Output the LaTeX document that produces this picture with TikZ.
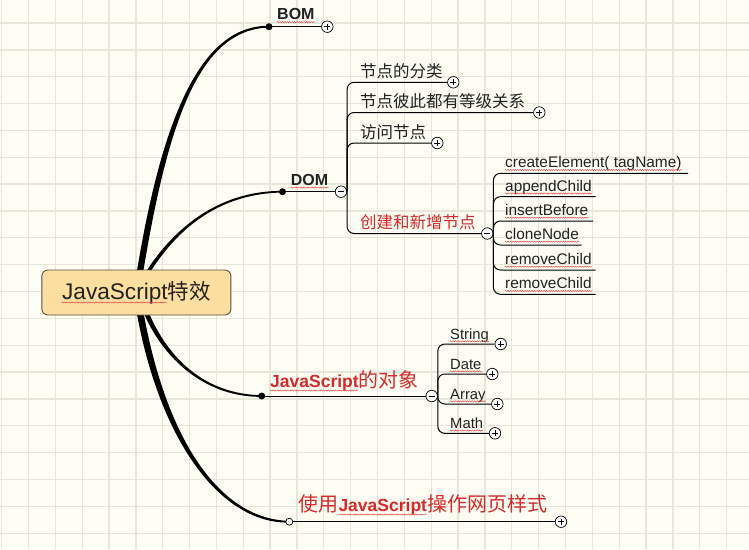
\documentclass[tikz,border=0pt]{standalone}
\usepackage{fontspec}
\setmainfont{Liberation Sans}
\newfontfamily\cjk{Noto Sans CJK SC}
\usetikzlibrary{decorations.pathmorphing}
\definecolor{bgc}{HTML}{FDFDF3}
\definecolor{gridc}{HTML}{E6E6DA}
\definecolor{rootfill}{HTML}{FCDFA0}
\definecolor{rootdraw}{HTML}{5A4E3A}
\definecolor{ink}{HTML}{222222}
\definecolor{redt}{HTML}{D42A2A}
\definecolor{wavec}{HTML}{D84848}
\newcommand\fs[1]{\fontsize{#1}{#1}\selectfont}
\newcommand\branchup[7]{\fill ([xshift=-#5]#1) .. controls ([xshift=-#5]#2) and ([yshift=#6]#3) .. ([yshift=#7]#4) -- ([yshift=-#7]#4) .. controls ([yshift=-#6]#3) and ([xshift=#5]#2) .. ([xshift=#5]#1) -- cycle;}
\newcommand\branchdown[7]{\fill ([xshift=-#5]#1) .. controls ([xshift=-#5]#2) and ([yshift=-#6]#3) .. ([yshift=-#7]#4) -- ([yshift=#7]#4) .. controls ([yshift=#6]#3) and ([xshift=#5]#2) .. ([xshift=#5]#1) -- cycle;}
\pgfdeclarelayer{back}
\pgfdeclarelayer{mid}
\pgfsetlayers{back,mid,main}
\tikzset{
  txt/.style={inner sep=0pt, text=ink, anchor=base west},
  tog/.style={circle, draw=black, fill=white, line width=0.7pt, minimum size=11.5pt, inner sep=0pt},
  plus/.style={tog, path picture={\draw[line width=0.7pt] ([xshift=-3pt]path picture bounding box.center) -- ([xshift=3pt]path picture bounding box.center) ([yshift=-3pt]path picture bounding box.center) -- ([yshift=3pt]path picture bounding box.center);}},
  minus/.style={tog, path picture={\draw[line width=0.7pt] ([xshift=-3pt]path picture bounding box.center) -- ([xshift=3pt]path picture bounding box.center);}},
  dot/.style={circle, fill=black, minimum size=7pt, inner sep=0pt},
  hdot/.style={circle, draw=black, fill=white, line width=0.7pt, minimum size=7pt, inner sep=0pt},
  conn/.style={line width=1pt, black, rounded corners=7pt},
  wavy/.style={draw=wavec, line width=0.45pt, decorate, decoration={snake, amplitude=0.6pt, segment length=2.4pt}}
}
\begin{document}
\begin{tikzpicture}[x=1pt,y=-1pt]
\useasboundingbox (0,0) rectangle (749,549);
\begin{pgfonlayer}{back}
\fill[bgc] (0,0) rectangle (749,549);
\begin{scope}
\clip (0,0) rectangle (749,549);
\foreach \i in {0,...,28} \draw[gridc, line width=1.3pt] ({1.6+\i*26.85},0) -- ({1.6+\i*26.85},549);
\foreach \j in {0,...,21} \draw[gridc, line width=1.3pt] (0,{-3.85+\j*26.85}) -- (749,{-3.85+\j*26.85});
\end{scope}
\end{pgfonlayer}

% root
\node[draw=rootdraw, fill=rootfill, rounded corners=6pt, line width=0.9pt, minimum width=189pt, minimum height=45pt, inner sep=0pt, text=ink] (root) at (136.4,292.5) {\fs{22.6}JavaScript{\cjk\fs{21.5}特效}};
\draw[wavy] (61.5,302.5) -- (167,302.5);

% main topic nodes
\node[txt, font=\bfseries\fs{16}] (bom) at (277,19.5) {BOM};
\node[dot] (bomdot) at (269,26.7) {};
\node[plus] (bomtog) at (327.3,26.7) {};

\node[txt, font=\bfseries\fs{16}] (dom) at (290.7,185) {DOM};
\node[dot] (domdot) at (282.5,191.7) {};
\node[minus] (domtog) at (341,191.7) {};

\node[txt, text=redt] (jso) at (270,387) {\bfseries\fs{17.5}JavaScript{\mdseries\cjk\fs{20}的对象}};
\node[dot] (jsdot) at (261.7,396) {};
\node[minus] (jstog) at (431.7,396) {};

\node[txt, text=redt] (sty) at (298.3,511.5) {{\cjk\fs{20}使用}{\bfseries\fs{17.5}JavaScript}{\cjk\fs{20}操作网页样式}};
\node[hdot] (stydot) at (289.3,521.7) {};
\node[plus] (stytog) at (561,521.7) {};

% DOM children
\node[txt, font=\cjk\fs{16.5}] (d1) at (360,77.3) {节点的分类};
\node[plus] (d1tog) at (453.3,82.3) {};
\node[txt, font=\cjk\fs{16.5}] (d2) at (360,107.5) {节点彼此都有等级关系};
\node[plus] (d2tog) at (539.3,112.5) {};
\node[txt, font=\cjk\fs{16.5}] (d3) at (360,138) {访问节点};
\node[plus] (d3tog) at (437.3,143) {};
\node[txt, font=\cjk\fs{16.5}, text=redt] (d4) at (360,228.5) {创建和新增节点};
\node[minus] (d4tog) at (487.3,233.5) {};

% create children
\node[txt, font=\fs{15.4}] (e1) at (505,167.7) {createElement( tagName)};
\coordinate (e1end) at (688,173.3);
\node[txt, font=\fs{15.4}] (e2) at (505,191.1) {appendChild};
\coordinate (e2end) at (595.7,196.7);
\node[txt, font=\fs{15.4}] (e3) at (505,215.4) {insertBefore};
\coordinate (e3end) at (593,221);
\node[txt, font=\fs{15.4}] (e4) at (505,239.4) {cloneNode};
\coordinate (e4end) at (581.7,245);
\node[txt, font=\fs{15.4}] (e5) at (505,264.4) {removeChild};
\coordinate (e5end) at (595.7,270);
\node[txt, font=\fs{15.4}] (e6) at (505,288.7) {removeChild};
\coordinate (e6end) at (595.7,294.3);

% JS children
\node[txt, font=\fs{14.8}] (s1) at (450,339) {String};
\node[plus] (s1tog) at (500.7,344) {};
\node[txt, font=\fs{14.8}] (s2) at (450,369) {Date};
\node[plus] (s2tog) at (492.3,374) {};
\node[txt, font=\fs{14.8}] (s3) at (450,399) {Array};
\node[plus] (s3tog) at (497.3,404) {};
\node[txt, font=\fs{14.8}] (s4) at (450,428.3) {Math};
\node[plus] (s4tog) at (495,433.3) {};

% wavy spell marks
\foreach \n in {bom,dom} \draw[wavy] ([yshift=-2.6pt]\n.base west) -- ([yshift=-2.6pt]\n.base east);
\foreach \n in {e1,e2,e3,e4,e5,e6,s1,s2,s3,s4} \draw[wavy] ([yshift=-2.3pt]\n.base west) -- ([yshift=-2.3pt]\n.base east);
\draw[wavy] (270,390.5) -- (358.5,390.5);
\draw[wavy] (338.3,514.5) -- (426.8,514.5);

% connectors
\begin{pgfonlayer}{mid}
\coordinate (bomS) at (140,272); \coordinate (bomA) at (165,120); \coordinate (bomB) at (200,27);
\coordinate (domS) at (148,272); \coordinate (domA) at (178,225); \coordinate (domB) at (222,192);
\coordinate (jsS) at (146,312); \coordinate (jsA) at (165,358); \coordinate (jsB) at (205,396);
\coordinate (styS) at (140,312); \coordinate (styA) at (163,440); \coordinate (styB) at (220,521.7);
\branchup{bomS}{bomA}{bomB}{bomdot.center}{3.2pt}{2pt}{0.9pt}
\branchup{domS}{domA}{domB}{domdot.center}{2.2pt}{1.5pt}{0.8pt}
\branchdown{jsS}{jsA}{jsB}{jsdot.center}{2.6pt}{1.5pt}{0.8pt}
\branchdown{styS}{styA}{styB}{stydot.center}{3.4pt}{2pt}{0.9pt}
\end{pgfonlayer}

\draw[conn] (bomdot.center) -- (bomtog.west);
\draw[conn] (domdot.center) -- (domtog.west);
\draw[conn] (jsdot.center) -- (jstog.west);
\draw[conn] (stydot.east) -- (stytog.west);

\foreach \c in {d1tog,d2tog,d3tog,d4tog} \draw[conn] (domtog.east) |- (\c.west);
\foreach \c in {e1end,e2end,e3end,e4end,e5end,e6end} \draw[conn] (d4tog.east) |- (\c);
\foreach \c in {s1tog,s2tog,s3tog,s4tog} \draw[conn] (jstog.east) |- (\c.west);
\end{tikzpicture}
\end{document}
